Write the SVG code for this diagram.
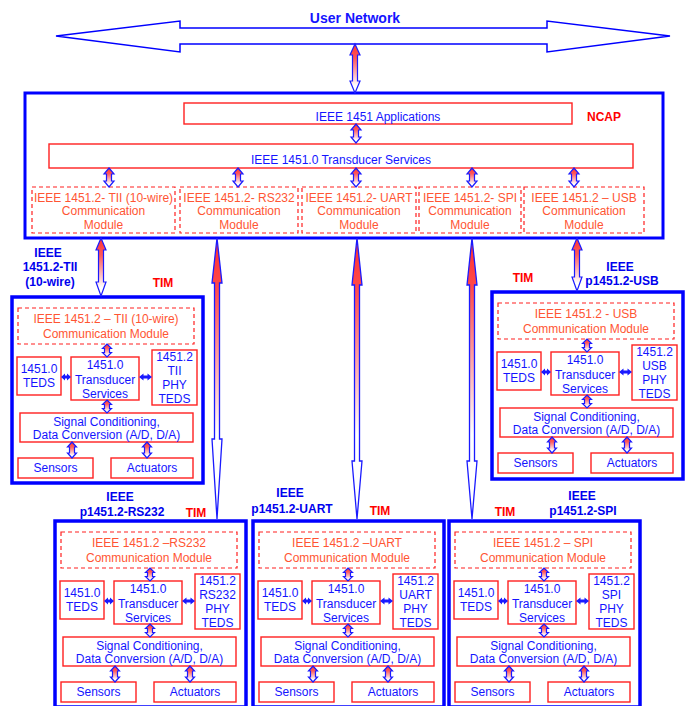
<svg xmlns="http://www.w3.org/2000/svg" width="688" height="706" viewBox="0 0 688 706">
<style>
.ncap{fill:#fff;stroke:#0000ff;stroke-width:3}
.tim{fill:#fff;stroke:#0000ff;stroke-width:3.5}
.rb{fill:#fff;stroke:#ff2020;stroke-width:1.4}
.db{fill:#fff;stroke:#ff2020;stroke-width:1.2;stroke-dasharray:4 3}
text{font-family:"Liberation Sans",Arial,sans-serif;font-size:12px;text-anchor:middle}
.b{fill:#1414ff}
.o{fill:#ff5533}
.lb{fill:#0000ee;font-weight:bold}
.rd{fill:#ff0000;font-weight:bold}
.un{fill:#fff;stroke:#0000ff;stroke-width:1.5}
.a{fill:url(#gs);stroke:#1a1aff;stroke-width:1.2}
.al{fill:url(#gl);stroke:#1a1aff;stroke-width:1.3}
.h{fill:#1a1aff}
</style>
<defs>
<linearGradient id="gs" x1="0" y1="0" x2="0" y2="1">
<stop offset="0" stop-color="#ff3030"/><stop offset="0.3" stop-color="#ff5a5a"/><stop offset="0.85" stop-color="#ffffff"/>
</linearGradient>
<linearGradient id="gl" x1="0" y1="0" x2="0" y2="1">
<stop offset="0" stop-color="#ff3030"/><stop offset="0.17" stop-color="#ff4848"/><stop offset="0.7" stop-color="#ffffff"/>
</linearGradient>
<path id="s13" d="M0 0L4.5 4.5L2.5 4.5L2.5 8.5L4.5 8.5L0 13L-4.5 8.5L-2.5 8.5L-2.5 4.5L-4.5 4.5Z"/>
<path id="s16" d="M0 0L4.5 5L2.5 5L2.5 11L4.5 11L0 16L-4.5 11L-2.5 11L-2.5 5L-4.5 5Z"/>
<path id="s20" d="M0 0L5 6L2.5 6L2.5 13L5 13L0 19L-5 13L-2.5 13L-2.5 6L-5 6Z"/>
<path id="h10" d="M0 0L4 -3.5L4 -1.5L6 -1.5L6 -3.5L10 0L6 3.5L6 1.5L4 1.5L4 3.5Z"/>
<path id="h13" d="M0 0L4.5 -3.5L4.5 -1.5L8.5 -1.5L8.5 -3.5L13 0L8.5 3.5L8.5 1.5L4.5 1.5L4.5 3.5Z"/>
</defs>
<rect width="688" height="706" fill="#fff"/>

<g id="user-network">
<path class="un" d="M56 36L180 21L180 28L547 28L547 21L670 36L547 52L547 44L180 44L180 52Z"/>
<text class="b" x="355" y="23" style="font-size:14px;font-weight:bold">User Network</text>
</g>

<g id="ncap">
<rect class="ncap" x="25" y="93" width="638" height="145"/>
<text class="rd" x="604" y="121">NCAP</text>
</g>
<g id="apps">
<rect class="rb" x="184" y="103" width="388" height="21"/>
<text class="b" x="378" y="121">IEEE 1451 Applications</text>
</g>
<g id="ts">
<rect class="rb" x="49" y="144" width="584" height="24"/>
<text class="b" x="341" y="164">IEEE 1451.0 Transducer Services</text>
</g>
<g id="cm-tii">
<rect class="db" x="32" y="187" width="143" height="46"/>
<text class="o" x="103.5" y="202">IEEE 1451.2- TII (10-wire)</text>
<text class="o" x="103.5" y="215">Communication</text>
<text class="o" x="103.5" y="229">Module</text>
</g>
<g id="cm-rs232">
<rect class="db" x="180" y="187" width="118" height="46"/>
<text class="o" x="239" y="202">IEEE 1451.2- RS232</text>
<text class="o" x="239" y="215">Communication</text>
<text class="o" x="239" y="229">Module</text>
</g>
<g id="cm-uart">
<rect class="db" x="302" y="187" width="114" height="46"/>
<text class="o" x="359" y="202">IEEE 1451.2- UART</text>
<text class="o" x="359" y="215">Communication</text>
<text class="o" x="359" y="229">Module</text>
</g>
<g id="cm-spi">
<rect class="db" x="419" y="187" width="102" height="46"/>
<text class="o" x="470" y="202">IEEE 1451.2- SPI</text>
<text class="o" x="470" y="215">Communication</text>
<text class="o" x="470" y="229">Module</text>
</g>
<g id="cm-usb">
<rect class="db" x="524" y="187" width="120" height="46"/>
<text class="o" x="584" y="202">IEEE 1451.2 – USB</text>
<text class="o" x="584" y="215">Communication</text>
<text class="o" x="584" y="229">Module</text>
</g>

<g id="tim-tii" transform="translate(12,297)">
<rect class="tim" width="191" height="186"/>
<rect class="db" x="6" y="11" width="176" height="36"/>
<text class="o" x="94" y="26">IEEE 1451.2 – TII (10-wire)</text>
<text class="o" x="94" y="41">Communication Module</text>
<rect class="rb" x="5" y="60" width="44" height="38"/>
<text class="b" x="27" y="76">1451.0</text><text class="b" x="27" y="90">TEDS</text>
<rect class="rb" x="59" y="60" width="68" height="43"/>
<text class="b" x="93" y="72">1451.0</text><text class="b" x="93" y="87">Transducer</text><text class="b" x="93" y="101">Services</text>
<rect class="rb" x="140" y="53" width="45" height="55"/>
<text class="b" x="162.5" y="64">1451.2</text><text class="b" x="162.5" y="78">TII</text><text class="b" x="162.5" y="92">PHY</text><text class="b" x="162.5" y="106">TEDS</text>
<rect class="rb" x="8" y="116" width="173" height="29"/>
<text class="b" x="94.5" y="129">Signal Conditioning,</text><text class="b" x="94.5" y="142">Data Conversion (A/D, D/A)</text>
<rect class="rb" x="6" y="161" width="75" height="20"/><text class="b" x="43.5" y="175">Sensors</text>
<rect class="rb" x="99" y="161" width="82" height="20"/><text class="b" x="140" y="175">Actuators</text>
</g>
<g id="tim-tii-label">
<text class="lb" x="48" y="257">IEEE</text><text class="lb" x="50" y="271">1451.2-TII</text><text class="lb" x="50" y="286">(10-wire)</text>
<text class="rd" x="163" y="287">TIM</text>
</g>

<g id="tim-usb" transform="translate(492,292)">
<rect class="tim" width="191" height="187"/>
<rect class="db" x="6" y="11" width="176" height="36"/>
<text class="o" x="94" y="26">IEEE 1451.2 - USB</text>
<text class="o" x="94" y="41">Communication Module</text>
<rect class="rb" x="5" y="60" width="44" height="38"/>
<text class="b" x="27" y="76">1451.0</text><text class="b" x="27" y="90">TEDS</text>
<rect class="rb" x="59" y="60" width="68" height="43"/>
<text class="b" x="93" y="72">1451.0</text><text class="b" x="93" y="87">Transducer</text><text class="b" x="93" y="101">Services</text>
<rect class="rb" x="140" y="53" width="45" height="55"/>
<text class="b" x="162.5" y="64">1451.2</text><text class="b" x="162.5" y="78">USB</text><text class="b" x="162.5" y="92">PHY</text><text class="b" x="162.5" y="106">TEDS</text>
<rect class="rb" x="8" y="116" width="173" height="29"/>
<text class="b" x="94.5" y="129">Signal Conditioning,</text><text class="b" x="94.5" y="142">Data Conversion (A/D, D/A)</text>
<rect class="rb" x="6" y="161" width="75" height="20"/><text class="b" x="43.5" y="175">Sensors</text>
<rect class="rb" x="99" y="161" width="82" height="20"/><text class="b" x="140" y="175">Actuators</text>
</g>
<g id="tim-usb-label">
<text class="lb" x="620" y="271">IEEE</text><text class="lb" x="622" y="285">p1451.2-USB</text>
<text class="rd" x="523" y="282">TIM</text>
</g>

<g id="tim-rs232" transform="translate(55,521)">
<rect class="tim" width="191" height="186"/>
<rect class="db" x="6" y="11" width="176" height="36"/>
<text class="o" x="94" y="26">IEEE 1451.2 –RS232</text>
<text class="o" x="94" y="41">Communication Module</text>
<rect class="rb" x="5" y="60" width="44" height="38"/>
<text class="b" x="27" y="76">1451.0</text><text class="b" x="27" y="90">TEDS</text>
<rect class="rb" x="59" y="60" width="68" height="43"/>
<text class="b" x="93" y="72">1451.0</text><text class="b" x="93" y="87">Transducer</text><text class="b" x="93" y="101">Services</text>
<rect class="rb" x="140" y="53" width="45" height="55"/>
<text class="b" x="162.5" y="64">1451.2</text><text class="b" x="162.5" y="78">RS232</text><text class="b" x="162.5" y="92">PHY</text><text class="b" x="162.5" y="106">TEDS</text>
<rect class="rb" x="8" y="116" width="173" height="29"/>
<text class="b" x="94.5" y="129">Signal Conditioning,</text><text class="b" x="94.5" y="142">Data Conversion (A/D, D/A)</text>
<rect class="rb" x="6" y="161" width="75" height="20"/><text class="b" x="43.5" y="175">Sensors</text>
<rect class="rb" x="99" y="161" width="82" height="20"/><text class="b" x="140" y="175">Actuators</text>
</g>
<g id="tim-rs232-label">
<text class="lb" x="120" y="501">IEEE</text><text class="lb" x="122" y="516">p1451.2-RS232</text>
<text class="rd" x="196" y="517">TIM</text>
</g>

<g id="tim-uart" transform="translate(253,521)">
<rect class="tim" width="191" height="186"/>
<rect class="db" x="6" y="11" width="176" height="36"/>
<text class="o" x="94" y="26">IEEE 1451.2 –UART</text>
<text class="o" x="94" y="41">Communication Module</text>
<rect class="rb" x="5" y="60" width="44" height="38"/>
<text class="b" x="27" y="76">1451.0</text><text class="b" x="27" y="90">TEDS</text>
<rect class="rb" x="59" y="60" width="68" height="43"/>
<text class="b" x="93" y="72">1451.0</text><text class="b" x="93" y="87">Transducer</text><text class="b" x="93" y="101">Services</text>
<rect class="rb" x="140" y="53" width="45" height="55"/>
<text class="b" x="162.5" y="64">1451.2</text><text class="b" x="162.5" y="78">UART</text><text class="b" x="162.5" y="92">PHY</text><text class="b" x="162.5" y="106">TEDS</text>
<rect class="rb" x="8" y="116" width="173" height="29"/>
<text class="b" x="94.5" y="129">Signal Conditioning,</text><text class="b" x="94.5" y="142">Data Conversion (A/D, D/A)</text>
<rect class="rb" x="6" y="161" width="75" height="20"/><text class="b" x="43.5" y="175">Sensors</text>
<rect class="rb" x="99" y="161" width="82" height="20"/><text class="b" x="140" y="175">Actuators</text>
</g>
<g id="tim-uart-label">
<text class="lb" x="290" y="497">IEEE</text><text class="lb" x="292" y="513">p1451.2-UART</text>
<text class="rd" x="380" y="515">TIM</text>
</g>

<g id="tim-spi" transform="translate(449,521)">
<rect class="tim" width="191" height="186"/>
<rect class="db" x="6" y="11" width="176" height="36"/>
<text class="o" x="94" y="26">IEEE 1451.2 – SPI</text>
<text class="o" x="94" y="41">Communication Module</text>
<rect class="rb" x="5" y="60" width="44" height="38"/>
<text class="b" x="27" y="76">1451.0</text><text class="b" x="27" y="90">TEDS</text>
<rect class="rb" x="59" y="60" width="68" height="43"/>
<text class="b" x="93" y="72">1451.0</text><text class="b" x="93" y="87">Transducer</text><text class="b" x="93" y="101">Services</text>
<rect class="rb" x="140" y="53" width="45" height="55"/>
<text class="b" x="162.5" y="64">1451.2</text><text class="b" x="162.5" y="78">SPI</text><text class="b" x="162.5" y="92">PHY</text><text class="b" x="162.5" y="106">TEDS</text>
<rect class="rb" x="8" y="116" width="173" height="29"/>
<text class="b" x="94.5" y="129">Signal Conditioning,</text><text class="b" x="94.5" y="142">Data Conversion (A/D, D/A)</text>
<rect class="rb" x="6" y="161" width="75" height="20"/><text class="b" x="43.5" y="175">Sensors</text>
<rect class="rb" x="99" y="161" width="82" height="20"/><text class="b" x="140" y="175">Actuators</text>
</g>
<g id="tim-spi-label">
<text class="lb" x="582" y="500">IEEE</text><text class="lb" x="583" y="515">p1451.2-SPI</text>
<text class="rd" x="505" y="516">TIM</text>
</g>

<g id="connectors">
<path class="a" d="M355 44L360 55L357.5 55L357.5 81L360 81L355 93L350 81L352.5 81L352.5 55L350 55Z"/>
<use class="a" href="#s20" x="356" y="124"/>
<use class="a" href="#s20" x="109" y="168"/>
<use class="a" href="#s20" x="238" y="168"/>
<use class="a" href="#s20" x="356" y="168"/>
<use class="a" href="#s20" x="472" y="168"/>
<use class="a" href="#s20" x="574" y="168"/>
<path class="a" d="M101 238L106 250L103.5 250L103.5 282L106 282L101 296L96 282L98.5 282L98.5 250L96 250Z"/>
<path class="a" d="M577 238L582 250L579.5 250L579.5 277L582 277L577 291L572 277L574.5 277L574.5 250L572 250Z"/>
<path class="al" d="M217 238L222 283L219.5 283L219.5 439L222 439L217 519L212 439L214.5 439L214.5 283L212 283Z"/>
<path class="al" d="M357 238L362 285L359.5 285L359.5 461L362 461L357 519L352 461L354.5 461L354.5 285L352 285Z"/>
<path class="al" d="M472 238L477 285L474.5 285L474.5 461L477 461L472 519L467 461L469.5 461L469.5 285L467 285Z"/>
<g transform="translate(12,297)">
<use class="a" href="#s13" x="95" y="47"/><use class="a" href="#s13" x="95" y="103"/>
<use class="a" href="#s16" x="60" y="145"/><use class="a" href="#s16" x="135" y="145"/>
<use class="h" href="#h10" x="49" y="80"/><use class="h" href="#h13" x="127" y="80"/>
</g>
<g transform="translate(492,292)">
<use class="a" href="#s13" x="95" y="47"/><use class="a" href="#s13" x="95" y="103"/>
<use class="a" href="#s16" x="60" y="145"/><use class="a" href="#s16" x="135" y="145"/>
<use class="h" href="#h10" x="49" y="80"/><use class="h" href="#h13" x="127" y="80"/>
</g>
<g transform="translate(55,521)">
<use class="a" href="#s13" x="95" y="47"/><use class="a" href="#s13" x="95" y="103"/>
<use class="a" href="#s16" x="60" y="145"/><use class="a" href="#s16" x="135" y="145"/>
<use class="h" href="#h10" x="49" y="80"/><use class="h" href="#h13" x="127" y="80"/>
</g>
<g transform="translate(253,521)">
<use class="a" href="#s13" x="95" y="47"/><use class="a" href="#s13" x="95" y="103"/>
<use class="a" href="#s16" x="60" y="145"/><use class="a" href="#s16" x="135" y="145"/>
<use class="h" href="#h10" x="49" y="80"/><use class="h" href="#h13" x="127" y="80"/>
</g>
<g transform="translate(449,521)">
<use class="a" href="#s13" x="95" y="47"/><use class="a" href="#s13" x="95" y="103"/>
<use class="a" href="#s16" x="60" y="145"/><use class="a" href="#s16" x="135" y="145"/>
<use class="h" href="#h10" x="49" y="80"/><use class="h" href="#h13" x="127" y="80"/>
</g>
</g>
</svg>
